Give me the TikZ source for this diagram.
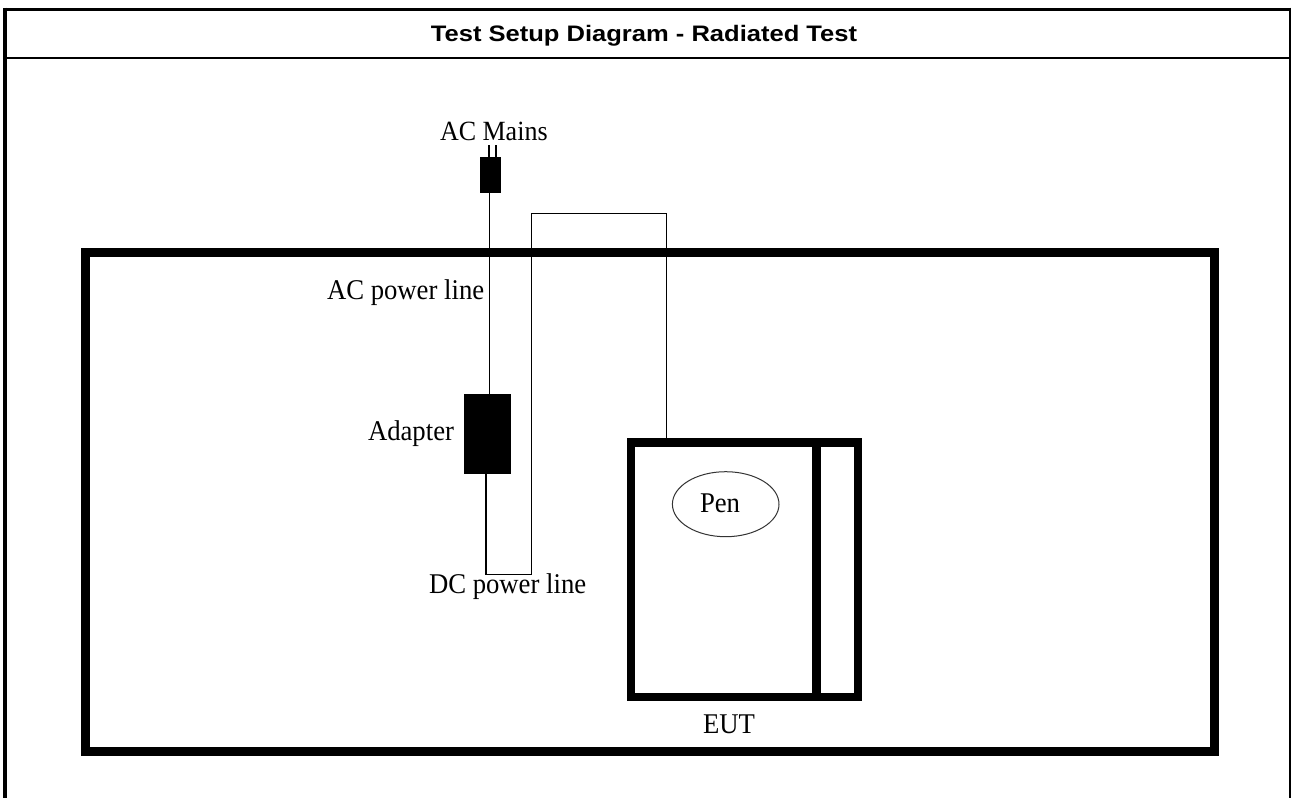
\documentclass[tikz,border=0pt]{standalone}
\usepackage{fontspec}
\setmainfont{Liberation Serif}
\newfontfamily\titlefont{Liberation Sans}
\usetikzlibrary{shapes.geometric}
\newcommand{\tallbox}[1]{\scalebox{1}[1.07]{#1}}
\tikzset{
  wire/.style={line width=1.4, line join=miter},
  lbl/.style={inner sep=0, outer sep=0, anchor=base west, font=\fontsize{26.7}{30}\selectfont},
  plugbox/.style={fill=black, draw=none, minimum width=21, minimum height=36, inner sep=0, outer sep=0},
  adapterbox/.style={fill=black, draw=none, minimum width=47, minimum height=80, inner sep=0, outer sep=0},
  eutbox/.style={draw=black, line width=8.5, minimum width=227, minimum height=254.5, inner sep=0, outer sep=0},
  penshape/.style={draw=black!80, line width=1, ellipse, minimum width=106.6, minimum height=65, inner sep=0, outer sep=0},
}
\begin{document}
\begin{tikzpicture}[x=1pt,y=-1pt]
\useasboundingbox (0,0) rectangle (1291,798);
\fill[white] (0,0) rectangle (1291,798);
% page frame
\draw[line width=4] (5.3,7.7) -- (5.3,798);
\draw[line width=3.6] (3.3,9.5) -- (1291,9.5);
\draw[line width=2.4] (1290,7.7) -- (1290,798);
\draw[line width=2.4] (3.3,57.8) -- (1291,57.8);
\node[anchor=base, inner sep=0] (title) at (644,41)
  {\scalebox{1.14}[1]{\titlefont\bfseries\fontsize{22.4}{26}\selectfont Test Setup Diagram - Radiated Test}};
% table
\draw[line width=9, line join=miter] (85.5,252) rectangle (1214,751);
% components
\node[plugbox] (plug) at (490.5,175) {};
\node[adapterbox] (adapter) at (487.5,434) {};
\node[eutbox] (eut) at (744.5,569.75) {};
\coordinate (dv) at (816.5,0);
\draw[line width=8.4] (dv |- eut.north) -- (dv |- eut.south);
\node[penshape] (pen) at (725.7,504.2) {};
% prongs
\draw[wire] ([xshift=-1.5]plug.north) -- ++(0,-12);
\draw[wire] ([xshift=5.5]plug.north) -- ++(0,-12);
% AC power line
\draw[wire] ([xshift=-1]plug.south) -- ([xshift=-1]plug.south |- adapter.north);
% DC power line
\coordinate (dc1) at (531.5,574.3);
\coordinate (dc2) at (531.5,213.7);
\coordinate (dc3) at (666.5,213.7);
\draw[wire] ([xshift=-1.5]adapter.south) |- (dc1) -- (dc2) -- (dc3) -- (dc3 |- eut.north);
% labels
\node[lbl, font=\fontsize{26}{30}\selectfont] (acm) at (440,140.7) {\tallbox{AC Mains}};
\node[lbl] (acl) at (327,299.3) {\tallbox{AC power line}};
\node[lbl] (adl) at (368,440) {\tallbox{Adapter}};
\node[lbl] (dcl) at (429,593) {\tallbox{DC power line}};
\node[lbl] (pentext) at (700,512.7) {\tallbox{Pen}};
\node[lbl] (eutl) at (703,733) {\tallbox{EUT}};
\end{tikzpicture}
\end{document}
